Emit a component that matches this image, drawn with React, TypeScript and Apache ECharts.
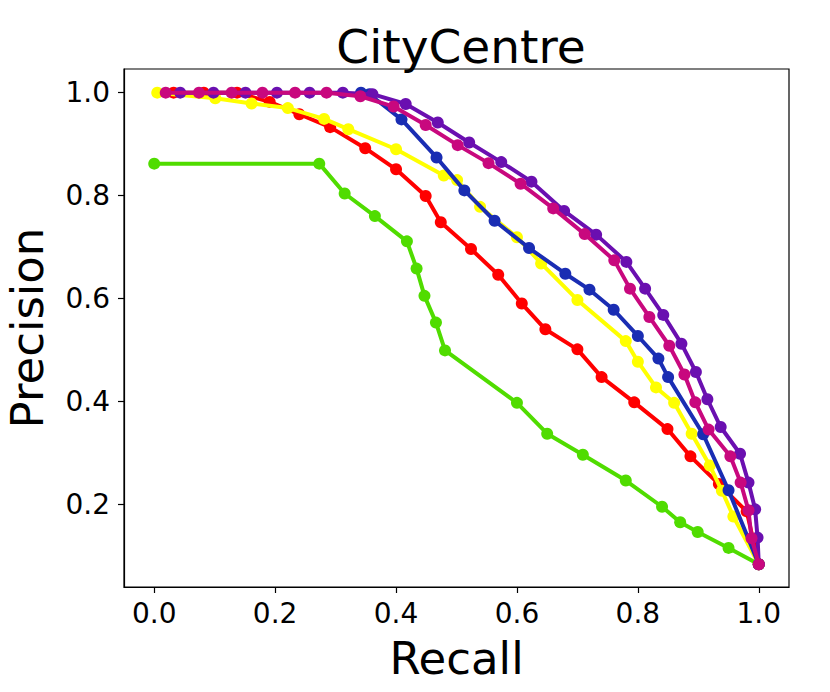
import React, { useEffect, useRef } from "react";
import * as echarts from "echarts";

const titleText = "CityCentre";
const xTicks = [0, 0.2, 0.4, 0.6, 0.8, 1.0];
const yTicks = [0.2, 0.4, 0.6, 0.8, 1.0];

const greenR = [0.0, 0.273, 0.315, 0.365, 0.418, 0.434, 0.447, 0.466, 0.481, 0.6, 0.65, 0.709, 0.78, 0.84, 0.87, 0.899, 0.95, 1.0];
const greenP = [0.862, 0.862, 0.804, 0.76, 0.711, 0.658, 0.605, 0.553, 0.499, 0.397, 0.337, 0.296, 0.246, 0.195, 0.165, 0.146, 0.115, 0.083];

const redR = [0.032, 0.082, 0.137, 0.191, 0.24, 0.291, 0.349, 0.4, 0.449, 0.474, 0.524, 0.569, 0.608, 0.647, 0.7, 0.74, 0.794, 0.849, 0.887, 0.934, 0.98, 1.0];
const redP = [1.0, 1.0, 1.0, 0.982, 0.958, 0.933, 0.892, 0.851, 0.799, 0.748, 0.696, 0.646, 0.59, 0.54, 0.501, 0.447, 0.398, 0.346, 0.293, 0.239, 0.186, 0.083];

const yellowR = [0.005, 0.101, 0.161, 0.221, 0.281, 0.321, 0.4, 0.479, 0.501, 0.539, 0.6, 0.64, 0.7, 0.78, 0.8, 0.83, 0.86, 0.889, 0.919, 0.939, 0.958, 1.0];
const yellowP = [1.0, 0.989, 0.979, 0.97, 0.949, 0.929, 0.89, 0.839, 0.83, 0.778, 0.719, 0.668, 0.597, 0.517, 0.477, 0.427, 0.397, 0.337, 0.275, 0.226, 0.176, 0.083];

const blueR = [0.342, 0.356, 0.409, 0.467, 0.513, 0.563, 0.62, 0.68, 0.72, 0.76, 0.8, 0.834, 0.85, 0.908, 0.95, 1.0];
const blueP = [1.0, 0.997, 0.948, 0.874, 0.81, 0.751, 0.698, 0.648, 0.617, 0.578, 0.527, 0.483, 0.447, 0.336, 0.227, 0.083];

const purpleR = [0.043, 0.098, 0.151, 0.203, 0.257, 0.312, 0.361, 0.416, 0.469, 0.521, 0.574, 0.624, 0.678, 0.731, 0.781, 0.812, 0.842, 0.872, 0.896, 0.915, 0.937, 0.969, 0.983, 0.994, 0.998, 1.0];
const purpleP = [1.0, 1.0, 1.0, 1.0, 1.0, 1.0, 0.997, 0.978, 0.942, 0.903, 0.865, 0.827, 0.77, 0.724, 0.671, 0.619, 0.568, 0.512, 0.457, 0.404, 0.35, 0.298, 0.242, 0.19, 0.135, 0.083];

const magentaR = [0.019, 0.074, 0.128, 0.179, 0.233, 0.285, 0.341, 0.396, 0.449, 0.502, 0.553, 0.606, 0.66, 0.712, 0.761, 0.787, 0.819, 0.852, 0.877, 0.895, 0.917, 0.953, 0.97, 0.983, 0.988, 1.0];
const magentaP = [1.0, 1.0, 1.0, 1.0, 1.0, 1.0, 0.993, 0.973, 0.937, 0.898, 0.863, 0.823, 0.775, 0.725, 0.674, 0.619, 0.564, 0.508, 0.452, 0.398, 0.345, 0.293, 0.242, 0.188, 0.134, 0.083];

const seriesDefs = [
  { name: "green", color: "#50dc00", r: greenR, p: greenP },
  { name: "red", color: "#ff0000", r: redR, p: redP },
  { name: "yellow", color: "#ffff00", r: yellowR, p: yellowP },
  { name: "blue", color: "#1a2db3", r: blueR, p: blueP },
  { name: "purple", color: "#6a0fb0", r: purpleR, p: purpleP },
  { name: "magenta", color: "#c8087e", r: magentaR, p: magentaP },
];

const FONT = "DejaVu Sans";

export default function App() {
  const ref = useRef<HTMLDivElement>(null);
  useEffect(() => {
    if (!ref.current) return;
    const chart = echarts.init(ref.current, undefined, { renderer: "svg" });
    chart.setOption({
      animation: false,
      backgroundColor: "#ffffff",
      title: {
        text: titleText,
        left: 456,
        textAlign: "center",
        top: 18,
        textStyle: { fontFamily: FONT, fontSize: 47, fontWeight: "normal", color: "#000" },
      },
      grid: {
        left: 124,
        right: 41,
        top: 69,
        bottom: 105,
        show: true,
        borderColor: "#000",
        borderWidth: 1.2,
        backgroundColor: "transparent",
        outerBoundsMode: "none",
        containLabel: false,
      },
      xAxis: {
        type: "value",
        min: -0.05,
        max: 1.05,
        name: "Recall",
        nameLocation: "middle",
        nameGap: 49,
        nameTextStyle: { fontFamily: FONT, fontSize: 45, color: "#000" },
        splitLine: { show: false },
        axisLine: { show: true, onZero: false, lineStyle: { color: "#000", width: 1.2 } },
        axisTick: { show: true, length: 6, lineStyle: { color: "#000", width: 1.2 }, customValues: xTicks },
        axisLabel: {
          fontFamily: FONT,
          fontSize: 28,
          color: "#000",
          margin: 12,
          customValues: xTicks,
          formatter: (v: number) => v.toFixed(1),
        },
      },
      yAxis: {
        type: "value",
        min: 0.039,
        max: 1.046,
        name: "Precision",
        nameLocation: "middle",
        nameGap: 74,
        nameTextStyle: { fontFamily: FONT, fontSize: 45, color: "#000" },
        splitLine: { show: false },
        axisLine: { show: true, onZero: false, lineStyle: { color: "#000", width: 1.2 } },
        axisTick: { show: true, length: 6, lineStyle: { color: "#000", width: 1.2 }, customValues: yTicks },
        axisLabel: {
          fontFamily: FONT,
          fontSize: 28,
          color: "#000",
          margin: 14,
          customValues: yTicks,
          formatter: (v: number) => v.toFixed(1),
        },
      },
      series: seriesDefs.map((s, i) => ({
        name: s.name,
        type: "line",
        z: 2 + i,
        data: s.r.map((r, j) => [r, s.p[j]]),
        symbol: "circle",
        symbolSize: 12,
        showSymbol: true,
        lineStyle: { color: s.color, width: 4 },
        itemStyle: { color: s.color },
        emphasis: { disabled: true },
      })),
    });
    return () => chart.dispose();
  }, []);
  return (
    <div
      ref={ref}
      style={{ position: "fixed", left: 0, top: 0, width: 830, height: 692, background: "#fff" }}
    />
  );
}
